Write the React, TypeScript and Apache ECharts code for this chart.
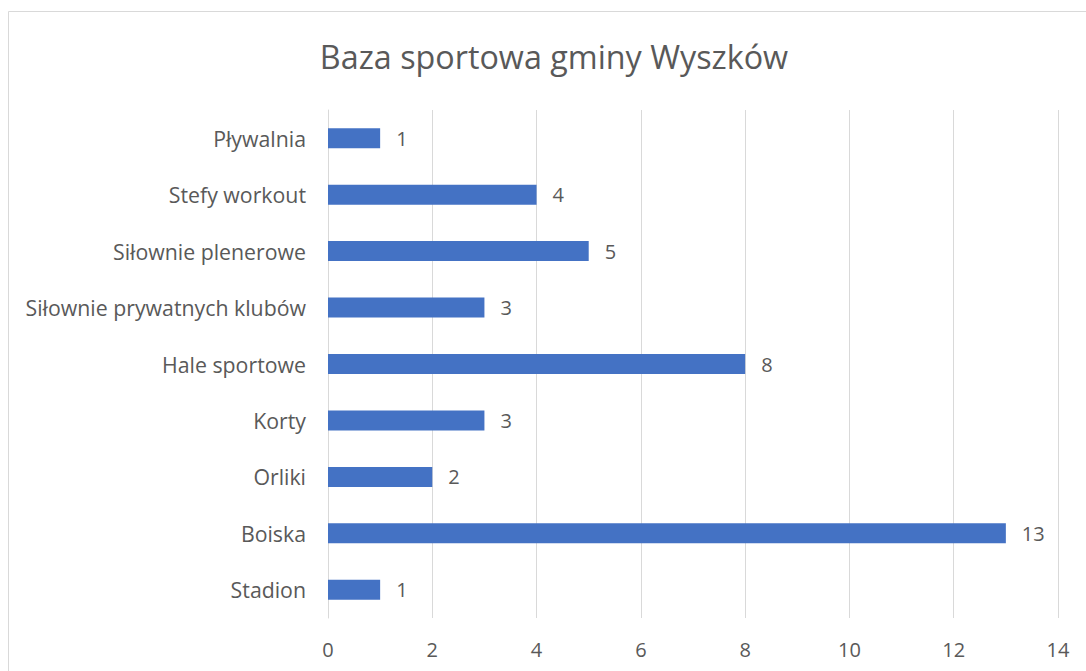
import React, { useEffect, useRef } from "react";
import * as echarts from "echarts";

const categories = [
  "Stadion",
  "Boiska",
  "Orliki",
  "Korty",
  "Hale sportowe",
  "Siłownie prywatnych klubów",
  "Siłownie plenerowe",
  "Stefy workout",
  "Pływalnia",
];
const values = [1, 13, 2, 3, 8, 3, 5, 4, 1];
const titleText = "Baza sportowa gminy Wyszków";

const FONT = "'Open Sans', 'Liberation Sans', sans-serif";
const TXT = "#595959";

export default function App() {
  const ref = useRef<HTMLDivElement>(null);
  useEffect(() => {
    const chart = echarts.init(ref.current!, undefined, { renderer: "svg" });
    chart.setOption({
      animation: false,
      backgroundColor: "#ffffff",
      title: {
        text: titleText,
        left: 549,
        top: 35,
        textAlign: "center",
        textStyle: { fontFamily: FONT, fontSize: 32.3, fontWeight: "normal", color: TXT },
      },
      graphic: [
        {
          type: "rect",
          shape: { x: 8.5, y: 11.5, width: 1200, height: 800 },
          style: { fill: "none", stroke: "#d9d9d9", lineWidth: 1 },
          silent: true,
        },
      ],
      grid: { left: 328, right: 28, top: 110, bottom: 53, containLabel: false },
      xAxis: {
        type: "value",
        min: 0,
        max: 14,
        interval: 2,
        axisLine: { show: false },
        axisTick: { show: false },
        axisLabel: { fontFamily: FONT, fontSize: 20, color: TXT, margin: 21 },
        splitLine: { show: true, lineStyle: { color: "#d9d9d9", width: 1 } },
      },
      yAxis: {
        type: "category",
        data: categories,
        axisLine: { show: true, lineStyle: { color: "#d9d9d9", width: 1 } },
        axisTick: { show: false },
        axisLabel: { fontFamily: FONT, fontSize: 21.3, color: TXT, margin: 22 },
      },
      series: [
        {
          type: "bar",
          data: values,
          barWidth: 20,
          itemStyle: { color: "#4472c4" },
          label: {
            show: true,
            position: "right",
            distance: 16,
            fontFamily: FONT,
            fontSize: 20,
            color: TXT,
          },
        },
      ],
    });
    return () => chart.dispose();
  }, []);
  return (
    <div
      ref={ref}
      style={{ position: "fixed", left: 0, top: 0, width: 1086, height: 671 }}
    />
  );
}
